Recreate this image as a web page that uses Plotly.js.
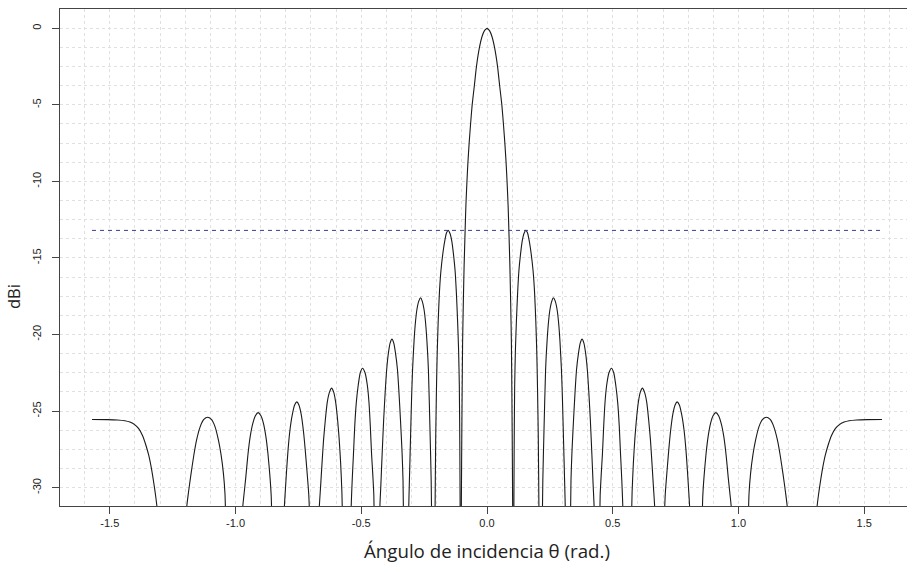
<!DOCTYPE html>
<html>
<head>
<meta charset="utf-8">
<script src="https://cdn.plot.ly/plotly-3.0.1.min.js"></script>
<style>
html,body{margin:0;padding:0;overflow:hidden;background:#fff;}
#chart{width:915px;height:565px;}
</style>
</head>
<body>
<div id="chart"></div>
<script>
// Right half of the pattern (theta in rad, gain in dBi)
var thetaRight = [0.000,0.010,0.020,0.030,0.042,0.050,0.059,0.066,0.071,0.076,0.080,0.084,0.087,0.091,0.094,0.097,0.099,0.101,0.1025,0.104,
0.1065,0.108,0.110,0.113,0.117,0.122,0.127,0.133,0.140,0.147,0.154,0.161,0.167,0.173,0.183,0.189,0.194,0.198,0.201,0.204,0.2065,0.213,
0.2195,0.222,0.226,0.233,0.239,0.245,0.251,0.258,0.264,0.271,0.278,0.284,0.290,0.296,0.300,0.304,0.3085,0.3115,0.322,
0.3315,0.334,0.338,0.344,0.350,0.356,0.364,0.371,0.378,0.385,0.392,0.399,0.405,0.411,0.417,0.422,0.4265,0.437,
0.4475,0.450,0.454,0.459,0.464,0.469,0.476,0.485,0.495,0.504,0.512,0.520,0.526,0.531,0.536,0.5405,0.557,
0.5735,0.577,0.582,0.588,0.594,0.602,0.610,0.618,0.626,0.635,0.643,0.650,0.656,0.662,0.6675,0.685,
0.7035,0.709,0.716,0.723,0.730,0.739,0.748,0.756,0.765,0.775,0.784,0.791,0.797,0.802,0.8065,0.830,
0.8545,0.858,0.863,0.871,0.879,0.889,0.899,0.910,0.921,0.932,0.942,0.951,0.959,0.966,0.9725,1.005,
1.0375,1.042,1.048,1.058,1.068,1.082,1.096,1.111,1.126,1.140,1.155,1.166,1.177,1.187,1.1955,1.250,
1.311,1.318,1.326,1.335,1.345,1.357,1.370,1.385,1.400,1.420,1.440,1.470,1.510,1.5708];
var dbiRight = [0.0,-0.15,-0.55,-1.25,-2.5,-3.7,-5.0,-6.4,-7.5,-8.8,-10.1,-11.6,-13.2,-15.5,-17.8,-20.5,-24.0,-28.5,-33,-50,
-33,-27.5,-23.4,-21.0,-19.1,-17.2,-15.8,-14.8,-13.9,-13.4,-13.2,-13.35,-13.8,-14.4,-15.8,-17.2,-19.1,-21.2,-23.6,-26.8,-31.5,-50,
-33,-29.5,-26.7,-22.3,-20.4,-19.1,-18.3,-17.8,-17.6,-17.8,-18.3,-19.1,-20.4,-22.3,-24.2,-26.7,-29.5,-31.5,-50,
-33,-29.5,-27.6,-25.6,-23.8,-22.3,-21.2,-20.55,-20.3,-20.55,-21.2,-22.3,-23.8,-25.6,-27.8,-29.8,-31.5,-50,
-33,-30.5,-29.2,-27.8,-26.0,-24.5,-23.3,-22.5,-22.2,-22.5,-23.3,-24.5,-26.0,-27.8,-29.5,-31.5,-50,
-33,-30.3,-28.4,-26.8,-25.6,-24.4,-23.75,-23.5,-23.75,-24.4,-25.6,-26.9,-28.4,-30.0,-31.5,-50,
-33,-30.4,-28.9,-27.5,-26.3,-25.2,-24.6,-24.4,-24.6,-25.3,-26.3,-27.5,-28.9,-30.2,-31.5,-50,
-33,-30.6,-29.3,-27.8,-26.7,-25.8,-25.3,-25.1,-25.3,-25.85,-26.7,-27.9,-29.3,-30.4,-31.5,-50,
-33,-30.4,-29.1,-27.8,-26.9,-26.0,-25.55,-25.4,-25.55,-26.0,-26.9,-27.9,-29.1,-30.3,-31.5,-50,
-31.5,-30.5,-29.6,-28.7,-27.9,-27.2,-26.6,-26.15,-25.9,-25.72,-25.63,-25.58,-25.56,-25.55];

// Left half (from 0 outward to -pi/2)
var thetaLeft = [-0.000,-0.010,-0.020,-0.030,-0.042,-0.050,-0.059,-0.066,-0.071,-0.076,-0.080,-0.084,-0.087,-0.091,-0.094,-0.097,-0.099,-0.101,-0.1025,-0.104,
-0.1065,-0.108,-0.110,-0.113,-0.117,-0.122,-0.127,-0.133,-0.140,-0.147,-0.154,-0.161,-0.167,-0.173,-0.183,-0.189,-0.194,-0.198,-0.201,-0.204,-0.2065,-0.213,
-0.2195,-0.222,-0.226,-0.233,-0.239,-0.245,-0.251,-0.258,-0.264,-0.271,-0.278,-0.284,-0.290,-0.296,-0.300,-0.304,-0.3085,-0.3115,-0.322,
-0.3315,-0.334,-0.338,-0.344,-0.350,-0.356,-0.364,-0.371,-0.378,-0.385,-0.392,-0.399,-0.405,-0.411,-0.417,-0.422,-0.4265,-0.437,
-0.4475,-0.450,-0.454,-0.459,-0.464,-0.469,-0.476,-0.485,-0.495,-0.504,-0.512,-0.520,-0.526,-0.531,-0.536,-0.5405,-0.557,
-0.5735,-0.577,-0.582,-0.588,-0.594,-0.602,-0.610,-0.618,-0.626,-0.635,-0.643,-0.650,-0.656,-0.662,-0.6675,-0.685,
-0.7035,-0.709,-0.716,-0.723,-0.730,-0.739,-0.748,-0.756,-0.765,-0.775,-0.784,-0.791,-0.797,-0.802,-0.8065,-0.830,
-0.8545,-0.858,-0.863,-0.871,-0.879,-0.889,-0.899,-0.910,-0.921,-0.932,-0.942,-0.951,-0.959,-0.966,-0.9725,-1.005,
-1.0375,-1.042,-1.048,-1.058,-1.068,-1.082,-1.096,-1.111,-1.126,-1.140,-1.155,-1.166,-1.177,-1.187,-1.1955,-1.250,
-1.311,-1.318,-1.326,-1.335,-1.345,-1.357,-1.370,-1.385,-1.400,-1.420,-1.440,-1.470,-1.510,-1.5708];
var dbiLeft = [0.0,-0.15,-0.55,-1.25,-2.5,-3.7,-5.0,-6.4,-7.5,-8.8,-10.1,-11.6,-13.2,-15.5,-17.8,-20.5,-24.0,-28.5,-33,-50,
-33,-27.5,-23.4,-21.0,-19.1,-17.2,-15.8,-14.8,-13.9,-13.4,-13.2,-13.35,-13.8,-14.4,-15.8,-17.2,-19.1,-21.2,-23.6,-26.8,-31.5,-50,
-33,-29.5,-26.7,-22.3,-20.4,-19.1,-18.3,-17.8,-17.6,-17.8,-18.3,-19.1,-20.4,-22.3,-24.2,-26.7,-29.5,-31.5,-50,
-33,-29.5,-27.6,-25.6,-23.8,-22.3,-21.2,-20.55,-20.3,-20.55,-21.2,-22.3,-23.8,-25.6,-27.8,-29.8,-31.5,-50,
-33,-30.5,-29.2,-27.8,-26.0,-24.5,-23.3,-22.5,-22.2,-22.5,-23.3,-24.5,-26.0,-27.8,-29.5,-31.5,-50,
-33,-30.3,-28.4,-26.8,-25.6,-24.4,-23.75,-23.5,-23.75,-24.4,-25.6,-26.9,-28.4,-30.0,-31.5,-50,
-33,-30.4,-28.9,-27.5,-26.3,-25.2,-24.6,-24.4,-24.6,-25.3,-26.3,-27.5,-28.9,-30.2,-31.5,-50,
-33,-30.6,-29.3,-27.8,-26.7,-25.8,-25.3,-25.1,-25.3,-25.85,-26.7,-27.9,-29.3,-30.4,-31.5,-50,
-33,-30.4,-29.1,-27.8,-26.9,-26.0,-25.55,-25.4,-25.55,-26.0,-26.9,-27.9,-29.1,-30.3,-31.5,-50,
-31.5,-30.5,-29.6,-28.7,-27.9,-27.2,-26.6,-26.15,-25.9,-25.72,-25.63,-25.58,-25.56,-25.55];

// Side-lobe reference level (dashed)
var sllTheta = [-1.5708, 1.5708];
var sllLevel = [-13.2, -13.2];

// Tick labels and titles
var xTickVals = [-1.5,-1.0,-0.5,0.0,0.5,1.0,1.5];
var xTickText = ["-1.5","-1.0","-0.5","0.0","0.5","1.0","1.5"];
var yTickVals = [0,-5,-10,-15,-20,-25,-30];
var yTickText = ["0","-5","-10","-15","-20","-25","-30"];
var xTitle = 'Ángulo de incidencia θ (rad.)';
var yTitle = 'dBi';

var lineStyle = {color:'#1a1a1a', width:1.1, shape:'spline', smoothing:0.6};
var traces = [
  {x: thetaLeft, y: dbiLeft, type:'scatter', mode:'lines', line: lineStyle, hoverinfo:'skip'},
  {x: thetaRight, y: dbiRight, type:'scatter', mode:'lines', line: lineStyle, hoverinfo:'skip'},
  {x: sllTheta, y: sllLevel, type:'scatter', mode:'lines', line:{color:'#3a3a90', width:1, dash:'4px,4px'}, hoverinfo:'skip'}
];

var gridCol = '#e0e0e0';
var titleFont = {family:'"Open Sans", "Liberation Sans", sans-serif', color:'#222'};
var layout = {
  width: 915, height: 565,
  margin: {l:60, r:1, t:9, b:59},
  paper_bgcolor:'#fff', plot_bgcolor:'#fff',
  showlegend:false,
  font:{family:'"Liberation Sans", Arial, sans-serif', color:'#222'},
  xaxis: {
    range:[-1.698, 1.698], autorange:false,
    tickmode:'array', tickvals:xTickVals, ticktext:xTickText,
    ticks:'outside', ticklen:7, tickwidth:1, tickcolor:'#444',
    tickfont:{size:11, color:'#222'},
    showline:true, mirror:true, linecolor:'#444', linewidth:1,
    showgrid:true, gridcolor:gridCol, griddash:'dot', gridwidth:1,
    minor:{dtick:0.1, tick0:0, showgrid:true, gridcolor:gridCol, griddash:'dot', gridwidth:1, ticks:''},
    zeroline:false
  },
  yaxis: {
    range:[-31.2, 1.26], autorange:false,
    tickmode:'array', tickvals:yTickVals, ticktext:yTickText,
    tickangle:-90,
    ticks:'outside', ticklen:7, tickwidth:1, tickcolor:'#444',
    tickfont:{size:11, color:'#222'},
    ticklabelstandoff:7,
    showline:true, mirror:true, linecolor:'#444', linewidth:1,
    showgrid:true, gridcolor:gridCol, griddash:'dot', gridwidth:1,
    minor:{dtick:1.25, tick0:0, showgrid:true, gridcolor:gridCol, griddash:'dot', gridwidth:1, ticks:''},
    zeroline:false
  },
  annotations: [
    {text:xTitle, xref:'paper', yref:'paper', x:0.5, y:-0.0905, xanchor:'center', yanchor:'middle',
     showarrow:false, font:Object.assign({size:18.7}, titleFont)},
    {text:yTitle, xref:'paper', yref:'paper', x:-0.055, y:0.4205, xanchor:'center', yanchor:'middle',
     textangle:-90, showarrow:false, font:Object.assign({size:16.5}, titleFont)}
  ]
};

Plotly.newPlot('chart', traces, layout, {staticPlot:true, displayModeBar:false});
</script>
</body>
</html>
